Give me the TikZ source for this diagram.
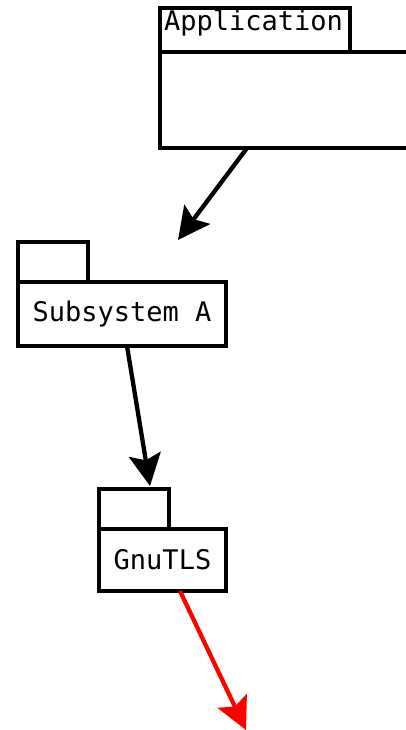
\documentclass[tikz,border=0pt]{standalone}
\usepackage{fontspec}
\setmonofont{DejaVu Sans Mono}
\usetikzlibrary{arrows.meta}
\begin{document}
\begin{tikzpicture}[x=1pt,y=-1pt,
  pkg/.style={draw=black,line width=4.6pt,fill=white,inner sep=0pt,outer sep=0pt,font=\fontsize{27}{32}\selectfont\ttfamily},
  dep/.style={line width=4.3pt,-{Stealth[length=32pt,width=32pt,inset=6pt]}},
  bad/.style={dep,draw=red,-{Stealth[length=32pt,width=32pt,inset=6pt,fill=red]}}]
\useasboundingbox (0,0) rectangle (405,730);
% Application
\node[pkg,anchor=north west,minimum width=190pt,minimum height=44pt] (apptab) at (160,8) {};
\node[pkg,anchor=north west,minimum width=260pt,minimum height=96pt] (appbody) at (160,52) {};
\node[anchor=west,inner sep=0pt,font=\fontsize{27}{32}\selectfont\ttfamily] (applbl) at (164,23) {Application};
% Subsystem A
\node[pkg,anchor=north west,minimum width=70pt,minimum height=40pt] (subtab) at (18,242) {};
\node[pkg,anchor=north west,minimum width=208pt,minimum height=64pt] (subbody) at (18,282) {Subsystem A};
% GnuTLS
\node[pkg,anchor=north west,minimum width=127pt,minimum height=62pt] (gnubody) at (99,529) {GnuTLS};
\node[pkg,anchor=north west,minimum width=70pt,minimum height=40pt] (gnutab) at (99,489) {};
\coordinate (a1) at (247,148);
\coordinate (a2) at (178,240);
\coordinate (b1) at (127,346);
\coordinate (b2) at (150,486);
\coordinate (c1) at (180,591);
\coordinate (c2) at (246,730);
\draw[dep] (a1) -- (a2);
\draw[dep] (b1) -- (b2);
\draw[bad] (c1) -- (c2);
\end{tikzpicture}
\end{document}
